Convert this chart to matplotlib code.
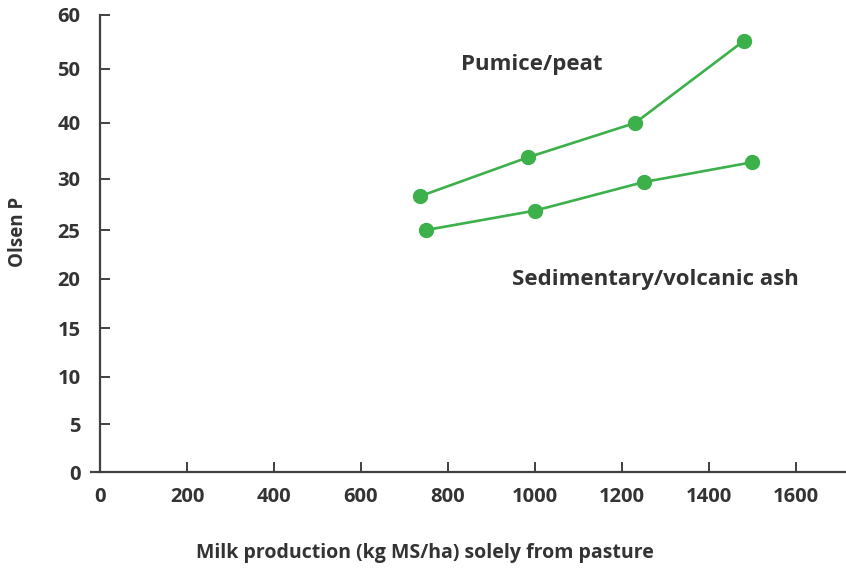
import matplotlib.pyplot as plt
import numpy as np
from matplotlib.ticker import FixedLocator

# data
pumice_x = [735, 985, 1230, 1480]
pumice_y = [28.3, 33.9, 40.0, 55.2]
sediment_x = [750, 1000, 1250, 1500]
sediment_y = [25.0, 26.9, 29.7, 33.0]

x_ticks = [0, 200, 400, 600, 800, 1000, 1200, 1400, 1600]
y_ticks = [0, 5, 10, 15, 20, 25, 30, 40, 50, 60]

# the y axis is not linear: the ticks sit at these heights (pixels from the bottom)
y_tick_pos = [0, 48, 95, 144, 193, 242, 293, 349, 403, 457]

GREEN = "#3cb04a"
TEXT = "#333333"
AXIS = "#404040"

plt.rcParams["font.family"] = ["Open Sans", "DejaVu Sans"]
plt.rcParams["font.weight"] = "bold"


def forward(v):
    v = np.asarray(v, dtype=float)
    return np.interp(v, y_ticks, y_tick_pos)


def inverse(p):
    p = np.asarray(p, dtype=float)
    return np.interp(p, y_tick_pos, y_ticks)


fig = plt.figure(figsize=(8.46, 5.68), dpi=100)
ax = fig.add_axes([100 / 846, 1 - 472 / 568, 746 / 846, 457 / 568])

ax.set_yscale("function", functions=(forward, inverse))
ax.set_ylim(0, 60)
ax.set_xlim(0, 1715)

ax.plot(pumice_x, pumice_y, color=GREEN, lw=1.9, marker="o", ms=10,
        clip_on=False)
ax.plot(sediment_x, sediment_y, color=GREEN, lw=1.9, marker="o", ms=10,
        clip_on=False)

ax.text(830, 50.8, "Pumice/peat", fontsize=16, color=TEXT,
        fontweight="bold", va="center", ha="left")
ax.text(948, 19.9, "Sedimentary/volcanic ash", fontsize=16, color=TEXT,
        fontweight="bold", va="center", ha="left")

ax.yaxis.set_major_locator(FixedLocator(y_ticks))
ax.yaxis.set_minor_locator(FixedLocator([]))
ax.xaxis.set_major_locator(FixedLocator(x_ticks))
ax.set_yticklabels([str(t) for t in y_ticks])
ax.set_xticklabels([str(t) for t in x_ticks])

for side in ("top", "right"):
    ax.spines[side].set_visible(False)
for side in ("left", "bottom"):
    ax.spines[side].set_color(AXIS)
    ax.spines[side].set_linewidth(1.6)
ax.spines["bottom"].set_bounds(-20, 1715)

ax.tick_params(axis="both", direction="in", length=7, width=1.4,
               color=AXIS, labelcolor=TEXT, labelsize=14.5)
ax.tick_params(axis="y", pad=14)
ax.tick_params(axis="x", pad=11)

fig.text(18 / 846, 1 - 232 / 568, "Olsen P", rotation=90, fontsize=13.5,
         color=TEXT, fontweight="bold", ha="center", va="center")
fig.text(425 / 846, 1 - 553 / 568,
         "Milk production (kg MS/ha) solely from pasture", fontsize=14,
         color=TEXT, fontweight="bold", ha="center", va="center")

fig.savefig("out.png", dpi=100)
